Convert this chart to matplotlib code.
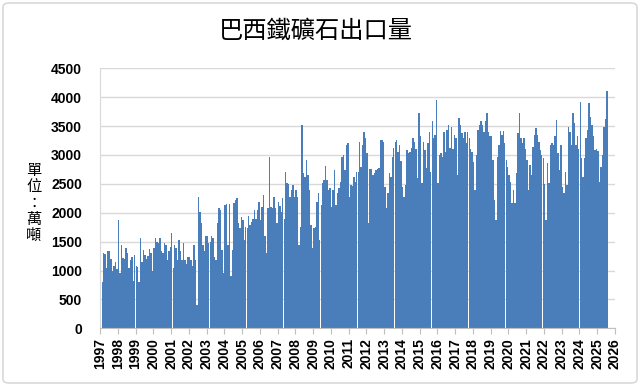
import numpy as np
import matplotlib
matplotlib.use("Agg")
from matplotlib import pyplot as plt
from matplotlib.patches import FancyBboxPatch

# Monthly iron ore exports of Brazil, unit: 10k tonnes
y1997 = [1210, 800, 1300, 1280, 1050, 1330, 1330, 1200, 1000, 1080, 1150, 1020]
y1998 = [1875, 960, 1440, 1220, 1200, 1390, 1300, 1040, 1180, 1240, 820, 1270]
y1999 = [1080, 1060, 810, 1560, 1150, 1360, 1270, 1200, 1250, 1380, 1300, 1000]
y2000 = [1390, 1560, 1500, 1470, 1560, 1330, 1300, 1470, 1440, 1180, 1330, 1400]
y2001 = [1650, 1040, 1440, 1385, 1180, 1530, 1330, 1180, 1470, 1180, 1120, 1240]
y2002 = [1240, 1180, 1070, 1440, 1180, 400, 2280, 2020, 1820, 1440, 1330, 1600]
y2003 = [1600, 1470, 1500, 1600, 1560, 1240, 1180, 1820, 2080, 2050, 1360, 950]
y2004 = [2140, 2160, 1440, 2150, 900, 1360, 2170, 2220, 2250, 1820, 1730, 1930]
y2005 = [1875, 1530, 1760, 1730, 1945, 1790, 1845, 1900, 2050, 1890, 2050, 2190]
y2006 = [1875, 2105, 2310, 1590, 1310, 2080, 2970, 2105, 2080, 2280, 2080, 1820]
y2007 = [2190, 2110, 2020, 2250, 1900, 2710, 2510, 2500, 2280, 2400, 2480, 2280]
y2008 = [2400, 2280, 1440, 1760, 3520, 2680, 2625, 2910, 2650, 2400, 1790, 1385]
y2009 = [1730, 1760, 2190, 2335, 1530, 2135, 2510, 2570, 2810, 2570, 2400, 2420]
y2010 = [2105, 2400, 2740, 2135, 2335, 2420, 2540, 2970, 3000, 2740, 3175, 3200]
y2011 = [2280, 2480, 2460, 2625, 2540, 2710, 2700, 3230, 2800, 3175, 3390, 3300]
y2012 = [3030, 1820, 2750, 2750, 2655, 2680, 2740, 2750, 2770, 3260, 3260, 3230]
y2013 = [2450, 2080, 2335, 2680, 2625, 2970, 3115, 3230, 3260, 3060, 3175, 2900]
y2014 = [2450, 2280, 2480, 3090, 3030, 3060, 3115, 3290, 3230, 3100, 2600, 3720]
y2015 = [3320, 2510, 3230, 3090, 2770, 3200, 3400, 2710, 3580, 3290, 3350, 3950]
y2016 = [2510, 3000, 3030, 2970, 3400, 3060, 3430, 3520, 3115, 3490, 3100, 3350]
y2017 = [3290, 2655, 3635, 3520, 3375, 3290, 3400, 3200, 3400, 3290, 3100, 3060]
y2018 = [2885, 2395, 3000, 3430, 3520, 3580, 3520, 3400, 3580, 3720, 3400, 3320]
y2019 = [3320, 2910, 2220, 1875, 2970, 3175, 3420, 3350, 3420, 3200, 2910, 2800]
y2020 = [2655, 2540, 2165, 2395, 2165, 2680, 3375, 3730, 3290, 3200, 3290, 3100]
y2021 = [2910, 2395, 2830, 2655, 3145, 3350, 3460, 3350, 3230, 3090, 3000, 2950]
y2022 = [2500, 1875, 2860, 2510, 3175, 3200, 3175, 3320, 3600, 3030, 2740, 3175]
y2023 = [2450, 2335, 2710, 2480, 3490, 3400, 3175, 3720, 3550, 3175, 3320, 3100]
y2024 = [3920, 2940, 2625, 2940, 3290, 3430, 3900, 3660, 3520, 3320, 3090, 3100]
y2025 = [3070, 2540, 2800, 3000, 3490, 3620, 4100]

years = list(range(1997, 2027))
yticks = [0, 500, 1000, 1500, 2000, 2500, 3000, 3500, 4000, 4500]

values = np.array(y1997 + y1998 + y1999 + y2000 + y2001 + y2002 + y2003 + y2004 +
                  y2005 + y2006 + y2007 + y2008 + y2009 + y2010 + y2011 + y2012 +
                  y2013 + y2014 + y2015 + y2016 + y2017 + y2018 + y2019 + y2020 +
                  y2021 + y2022 + y2023 + y2024 + y2025)
months = np.arange(len(values))

cjk = ['Noto Sans CJK TC', 'DejaVu Sans']

fig = plt.figure(figsize=(6.4, 3.86), dpi=100)
ax = fig.add_axes([100/640, 1-328.3/386, 515/640, 260/386])

# outer chart border like Excel
fig.patches.append(FancyBboxPatch((3/640, 3/386), 634/640, 380/386,
                                  boxstyle="round,pad=0,rounding_size=0.01",
                                  transform=fig.transFigure, fill=False,
                                  edgecolor='#D9D9D9', linewidth=1.2))

ax.bar(months, values, width=0.97, color='#4A7EBB', linewidth=0, zorder=2)

ax.set_xlim(-0.5, 12*(len(years)-1) - 0.5)
ax.set_ylim(0, 4500)
ax.set_yticks(yticks)
ax.set_yticklabels([str(v) for v in yticks], fontweight='bold', fontsize=10,
                   family='Liberation Sans')
ax.set_xticks([12*i - 0.5 for i in range(len(years))])
ax.set_xticklabels([str(y) for y in years], rotation=90, fontweight='bold',
                   fontsize=10, family='Liberation Sans')

ax.grid(axis='y', color='#D9D9D9', linewidth=1, zorder=0)
ax.set_axisbelow(True)
for s in ['top', 'right']:
    ax.spines[s].set_visible(False)
ax.spines['left'].set_color('#D9D9D9')
ax.spines['bottom'].set_color('#BFBFBF')
ax.tick_params(axis='y', length=0, pad=13)
ax.tick_params(axis='x', length=4, color='#BFBFBF', pad=3)

fig.text(316/640, 1-31/386, '巴西鐵礦石出口量', ha='center', va='center',
         fontsize=17.5, family=cjk)
fig.text(34/640, 1-203/386, '單\n位\n：\n萬\n噸', ha='center', va='center',
         fontsize=11, family=cjk, linespacing=0.95)

fig.savefig('out.png', dpi=100)
